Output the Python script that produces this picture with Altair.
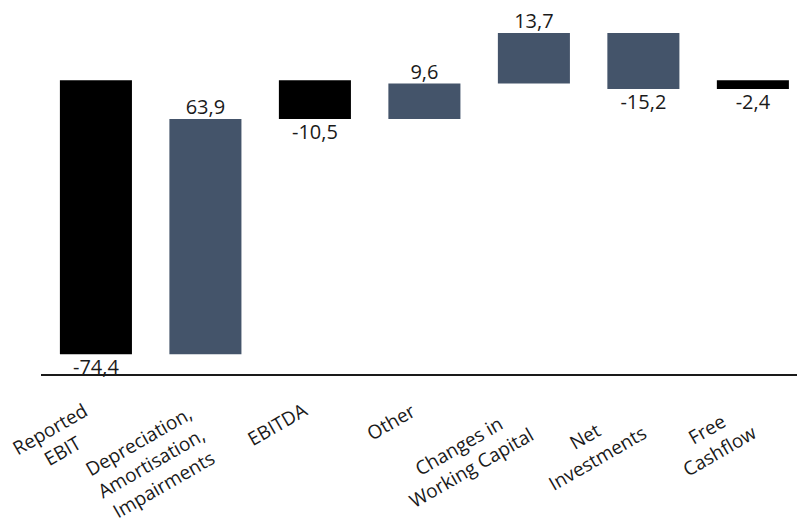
import altair as alt
import pandas as pd

categories = ["Reported EBIT", "Depreciation", "EBITDA", "Other",
              "Changes in WC", "Net Investments", "Free Cashflow"]
labels = ["Reported\nEBIT", "Depreciation,\nAmortisation,\nImpairments", "EBITDA", "Other",
          "Changes in\nWorking Capital", "Net\nInvestments", "Free\nCashflow"]
values = [-74.4, 63.9, -10.5, 9.6, 13.7, -15.2, -2.4]
kinds = ["total", "delta", "total", "delta", "delta", "delta", "total"]

rows = []
running = 0.0
for c, lab, v, k in zip(categories, labels, values, kinds):
    if k == "total":
        start, end = 0.0, v
        running = v
    else:
        start, end = running, running + v
        running = end
    maxlen = max(len(s) for s in lab.split("\n"))
    rows.append({
        "cat": c, "label": lab, "value": v, "kind": k,
        "start": start, "end": end,
        "lab_y": max(start, end) if v > 0 else min(start, end),
        "vtxt": f"{v:.1f}".replace(".", ","),
        "halfw": maxlen * 9.6 / 2,
    })
df = pd.DataFrame(rows)

FONT = "Open Sans"
TXT = "#1a1a1a"

xscale = alt.Scale(paddingInner=0.342, paddingOuter=0.1233, align=0.7)
xenc = alt.X("cat:N", sort=categories, scale=xscale,
             axis=alt.Axis(labels=False, ticks=False, domain=False, title=None, grid=False))
yscale = alt.Scale(domain=[-80, 15], nice=False, zero=False)

base = alt.Chart(df)

bars = base.mark_bar().encode(
    x=xenc,
    y=alt.Y("start:Q", scale=yscale, axis=None),
    y2="end:Q",
    color=alt.Color("kind:N", scale=alt.Scale(domain=["total", "delta"],
                                              range=["#000000", "#44546A"]), legend=None),
)

pos_lab = base.transform_filter("datum.value > 0").mark_text(
    baseline="bottom", dy=-1, fontSize=20, font=FONT, color=TXT
).encode(x=xenc, y=alt.Y("lab_y:Q", scale=yscale), text="vtxt:N")

neg_lab = base.transform_filter("datum.value < 0").mark_text(
    baseline="top", dy=4, fontSize=20, font=FONT, color=TXT
).encode(x=xenc, y=alt.Y("lab_y:Q", scale=yscale), text="vtxt:N")

cat_lab = base.mark_text(
    angle=330, align="center", baseline="top", lineBreak="\n",
    fontSize=19, font=FONT, color=TXT, lineHeight=25,
    dx=alt.expr("-datum.halfw - 17"), dy=-4,
).encode(x=xenc, y=alt.value(373), text="label:N")

axis_line = alt.Chart(pd.DataFrame({"a": [0]})).mark_rule(
    color="#1a1a1a", strokeWidth=2
).encode(x=alt.value(0), x2=alt.value(764), y=alt.value(350))

chart = alt.layer(bars, pos_lab, neg_lab, cat_lab, axis_line).properties(
    width=756, height=350,
    autosize=alt.AutoSizeParams(type="none"),
    padding={"left": 33, "top": 17, "right": 0, "bottom": 152},
).configure_view(stroke=None)

chart.save("out.html", embed_options={"renderer": "svg", "actions": False})
